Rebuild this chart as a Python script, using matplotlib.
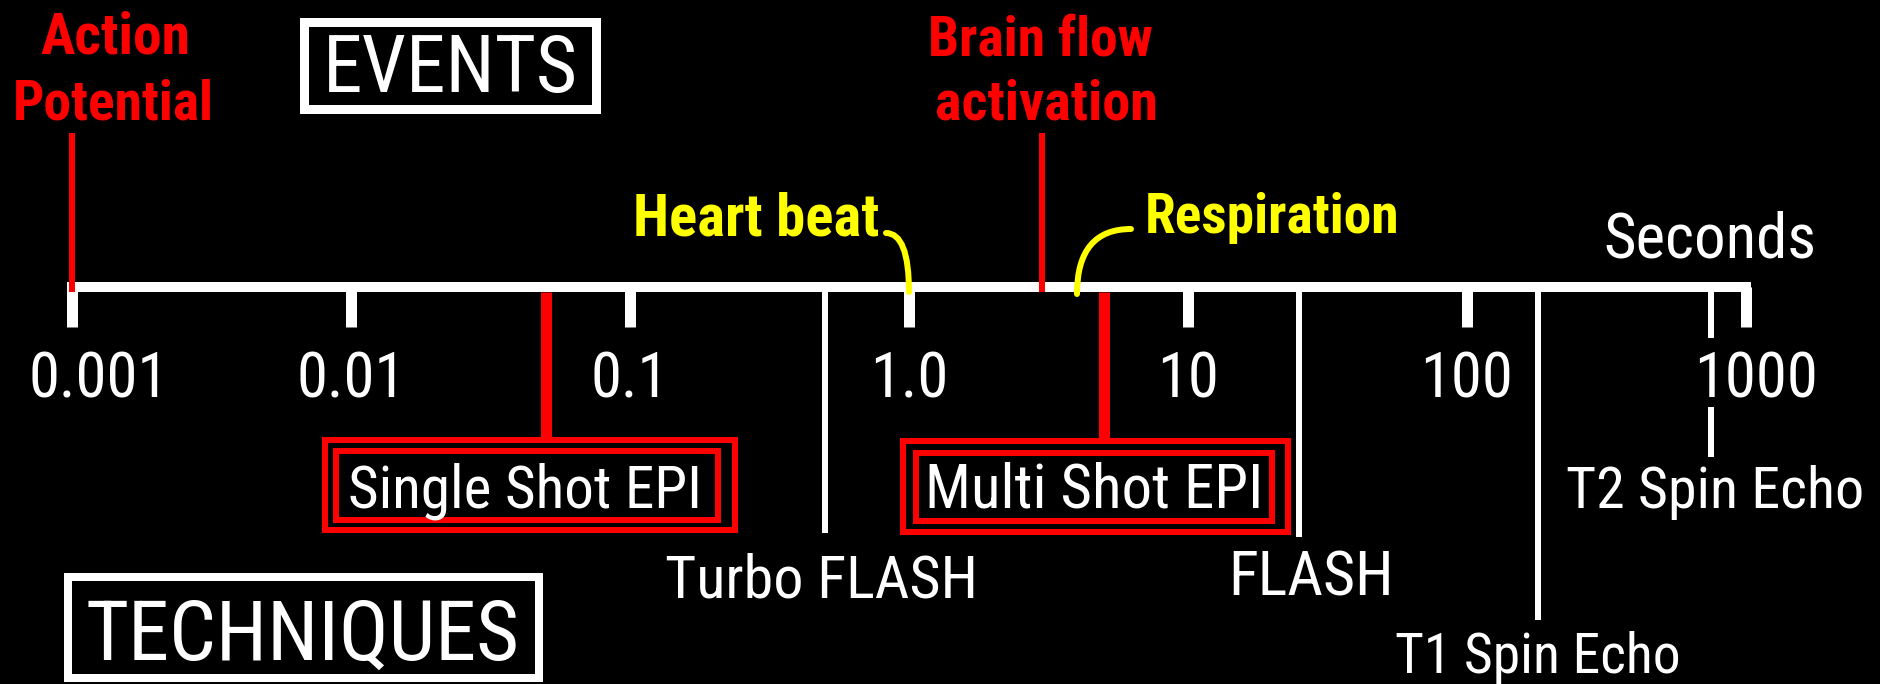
import matplotlib
matplotlib.use("Agg")
import matplotlib.pyplot as plt
from matplotlib import font_manager as fm
from matplotlib.patches import Rectangle

# pick the narrowest sans family that is installed
installed = {f.name for f in fm.fontManager.ttflist}
family = "DejaVu Sans"
for fam in ["Liberation Sans Narrow", "Roboto Condensed", "Open Sans Condensed",
            "DejaVu Sans Condensed", "Roboto"]:
    if fam in installed:
        family = fam
        break
plt.rcParams['font.family'] = [family, 'DejaVu Sans']

# time scale (seconds)
decades = [0.001, 0.01, 0.1, 1.0, 10, 100, 1000]
decade_labels = ["0.001", "0.01", "0.1", "1.0", "10", "100", "1000"]

# events (above the line)
red_event_times = [0.001, 3.0]
heart_time = 1.0
resp_time = 4.0

# techniques (below the line)
epi_names = ["Single Shot EPI", "Multi Shot EPI"]
epi_times = [0.05, 5.0]
tech_names = ["Turbo FLASH", "FLASH", "T1 Spin Echo", "T2 Spin Echo"]
tech_times = [0.5, 25.0, 180.0, 750.0]

W, H = 1881, 684
PT = 0.72  # points per pixel at dpi 100

fig = plt.figure(figsize=(W / 100, H / 100), dpi=100, facecolor="black")
ax = fig.add_axes([0, 0, 1, 1], facecolor="black")
ax.set_xscale("log")
px_dec = 279.0
ax.set_xlim(10 ** (-3 - 72 / px_dec), 10 ** (3 + (W - 1746) / px_dec))
ax.set_ylim(H, 0)
ax.axis("off")

# overlay in pixel units for boxes / free labels
lay = fig.add_axes([0, 0, 1, 1], facecolor="none")
lay.set_xlim(0, W)
lay.set_ylim(H, 0)
lay.axis("off")

fits = []  # (text, target width in px)

Y_AX = 287
# main line + decade ticks
ax.plot([decades[0], decades[-1]], [Y_AX, Y_AX], color="white",
        lw=10 * PT, solid_capstyle="projecting")
ax.vlines(decades, Y_AX, 327, color="white", lw=11 * PT)
tick_texts = []
for i, (v, lab) in enumerate(zip(decades, decade_labels)):
    dx = 27 * PT if i == 0 else (10 * PT if i == 6 else 0)
    t = ax.annotate(lab, (v, 398), xytext=(dx, 0), textcoords="offset points",
                    ha="center", va="baseline", color="white", fontsize=40)
    tick_texts.append(t)

# red event markers
ax.vlines(red_event_times, 133, 292, color="red", lw=6 * PT)
kw_red = dict(textcoords="offset points", ha="center", va="baseline",
              color="red", fontsize=36, fontweight="bold")
fits.append((ax.annotate("Action", (red_event_times[0], 53),
                         xytext=(43 * PT, 0), **kw_red), 150))
fits.append((ax.annotate("Potential", (red_event_times[0], 120),
                         xytext=(41 * PT, 0), **kw_red), 201))
fits.append((ax.annotate("Brain flow", (red_event_times[1], 55),
                         xytext=(-2 * PT, 0), **kw_red), 225))
fits.append((ax.annotate("activation", (red_event_times[1], 120),
                         xytext=(4 * PT, 0), **kw_red), 223))

# yellow curly pointers
ax.annotate("", xy=(heart_time, 292), xytext=(-23 * PT, 59 * PT),
            textcoords="offset points",
            arrowprops=dict(arrowstyle="-", color="yellow", lw=6 * PT,
                            shrinkA=0, shrinkB=0,
                            connectionstyle="angle3,angleA=0,angleB=90"))
fits.append((ax.annotate("Heart beat", (heart_time, 235), xytext=(-30 * PT, 0),
                         textcoords="offset points", ha="right", va="baseline",
                         color="yellow", fontsize=36, fontweight="bold"), 246))
ax.annotate("", xy=(resp_time, 294), xytext=(54 * PT, 65 * PT),
            textcoords="offset points",
            arrowprops=dict(arrowstyle="-", color="yellow", lw=6 * PT,
                            shrinkA=0, shrinkB=0,
                            connectionstyle="angle3,angleA=0,angleB=90"))
fits.append((ax.annotate("Respiration", (resp_time, 233), xytext=(68 * PT, 0),
                         textcoords="offset points", ha="left", va="baseline",
                         color="yellow", fontsize=36, fontweight="bold"), 255))

fits.append((lay.text(1710, 258, "Seconds", ha="center", va="baseline",
                      color="white", fontsize=40), 213))

# EPI techniques (red lines to double boxes)
ax.vlines(epi_times, 292, 438, color="red", lw=11 * PT)
epi_boxes = [(322, 437, 738, 533, 333, 448, 721, 523, 525, 354),
             (900, 438, 1291, 535, 913, 450, 1275, 524, 1094, 338)]
for name, (x0, y0, x1, y1, i0, j0, i1, j1, cx, tw) in zip(epi_names, epi_boxes):
    for a, b, c, d in [(x0, y0, x1, y1), (i0, j0, i1, j1)]:
        lay.add_patch(Rectangle((a + 3, b + 3), c - a - 6, d - b - 6,
                                fill=False, ec="red", lw=6 * PT))
    fits.append((lay.text(cx, 507, name, ha="center", va="baseline",
                          color="white", fontsize=36), tw))

# other techniques (white lines)
tech_ends = [533, 537, 620, 457]
tech_base = [597, 595, 673, 508]
tech_dx = [-4, 12, 0, 4]
tech_w = [313, 166, 285, 298]
for name, t, yend, yb, dx, tw in zip(tech_names, tech_times, tech_ends,
                                     tech_base, tech_dx, tech_w):
    if name.startswith("T2"):
        ax.vlines(t, 292, 338, color="white", lw=6 * PT)
        ax.vlines(t, 407, yend, color="white", lw=6 * PT)
    else:
        ax.vlines(t, 292, yend, color="white", lw=6 * PT)
    fits.append((ax.annotate(name, (t, yb), xytext=(dx * PT, 0),
                             textcoords="offset points", ha="center",
                             va="baseline", color="white", fontsize=36), tw))

# section boxes
lay.add_patch(Rectangle((303.5, 21.5), 292, 87, fill=False, ec="white",
                        lw=9 * PT))
fits.append((lay.text(450, 92, "EVENTS", ha="center", va="baseline",
                      color="white", fontsize=44), 255))
lay.add_patch(Rectangle((68, 577), 471, 101, fill=False, ec="white",
                        lw=8 * PT))
fits.append((lay.text(303, 660, "TECHNIQUES", ha="center", va="baseline",
                      color="white", fontsize=48), 434))

# scale every label to the width it has in the reference
fig.canvas.draw()
r = fig.canvas.get_renderer()
for t, tw in fits:
    w = t.get_window_extent(r).width
    t.set_fontsize(t.get_fontsize() * tw / w)
w = tick_texts[-1].get_window_extent(r).width
tick_size = tick_texts[-1].get_fontsize() * 124 / w
for t in tick_texts:
    t.set_fontsize(tick_size)

fig.savefig("out.png", dpi=100, facecolor="black")
